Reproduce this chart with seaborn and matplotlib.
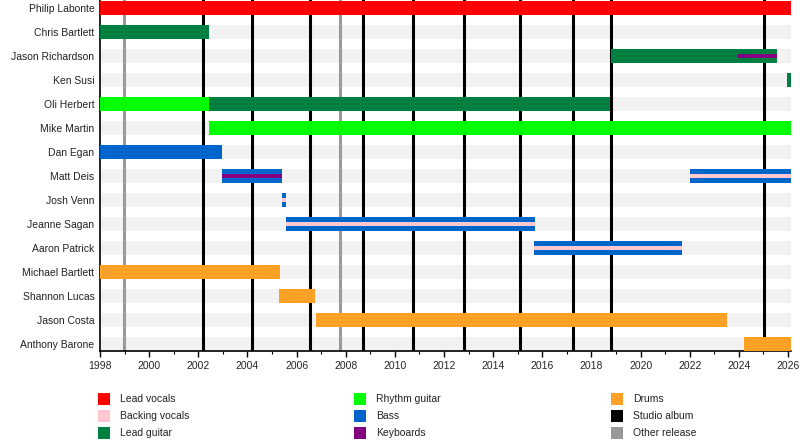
import matplotlib
matplotlib.use("Agg")
import matplotlib.pyplot as plt
from matplotlib.patches import Rectangle
from matplotlib.ticker import MultipleLocator
import seaborn as sns

# ── DATA ─────────────────────────────────────────────────────
members = ["Philip Labonte", "Chris Bartlett", "Jason Richardson", "Ken Susi",
           "Oli Herbert", "Mike Martin", "Dan Egan", "Matt Deis", "Josh Venn",
           "Jeanne Sagan", "Aaron Patrick", "Michael Bartlett", "Shannon Lucas",
           "Jason Costa", "Anthony Barone"]

END = 2026.12  # "today" on the timeline

# main role bars
bar_member = ["Philip Labonte", "Chris Bartlett", "Jason Richardson", "Ken Susi",
              "Oli Herbert", "Oli Herbert", "Mike Martin", "Dan Egan",
              "Matt Deis", "Matt Deis", "Josh Venn", "Jeanne Sagan",
              "Aaron Patrick", "Michael Bartlett", "Shannon Lucas",
              "Jason Costa", "Anthony Barone"]
bar_role = ["Lead vocals", "Lead guitar", "Lead guitar", "Lead guitar",
            "Rhythm guitar", "Lead guitar", "Rhythm guitar", "Bass",
            "Bass", "Bass", "Bass", "Bass",
            "Bass", "Drums", "Drums",
            "Drums", "Drums"]
bar_start = [1998.0, 1998.0, 2018.78, 2025.95,
             1998.0, 2002.44, 2002.42, 1998.0,
             2002.97, 2022.0, 2005.41, 2005.57,
             2015.68, 1998.0, 2005.30,
             2006.78, 2024.21]
bar_end = [END, 2002.44, 2025.54, END,
           2002.44, 2018.76, END, 2002.97,
           2005.41, END, 2005.57, 2015.70,
           2021.69, 2005.33, 2006.75,
           2023.52, END]

# secondary role stripes inside bars
stripe_member = ["Jason Richardson", "Matt Deis", "Matt Deis", "Josh Venn",
                 "Jeanne Sagan", "Aaron Patrick"]
stripe_role = ["Keyboards", "Keyboards", "Backing vocals", "Backing vocals",
               "Backing vocals", "Backing vocals"]
stripe_start = [2023.95, 2002.97, 2022.0, 2005.41, 2005.57, 2015.68]
stripe_end = [2025.54, 2005.41, END, 2005.57, 2015.70, 2021.69]

studio_albums = [2002.2, 2004.2, 2006.53, 2008.69, 2010.74, 2012.82,
                 2015.1, 2017.26, 2018.8, 2025.03]
other_releases = [1998.98, 2007.77]

role_colors = {
    "Lead vocals": "#FF0000",
    "Backing vocals": "#FFC8D0",
    "Lead guitar": "#008040",
    "Rhythm guitar": "#00FF00",
    "Bass": "#0066CC",
    "Keyboards": "#800080",
    "Drums": "#FFA126",
    "Studio album": "#000000",
    "Other release": "#999999",
}
legend_order = ["Lead vocals", "Backing vocals", "Lead guitar",
                "Rhythm guitar", "Bass", "Keyboards",
                "Drums", "Studio album", "Other release"]

# ── STYLE ────────────────────────────────────────────────────
sns.set_theme(style="white")
plt.rcParams["font.family"] = ["Liberation Sans", "DejaVu Sans"]
FS = 7.5

W, H = 800, 440
fig = plt.figure(figsize=(W / 100, H / 100), dpi=100)
ax = fig.add_axes([100 / W, 89 / H, 691 / W, 351 / H])

ypos = {m: i for i, m in enumerate(members)}
BAR_H = 14 / 24
STRIPE_H = 4 / 24

# background stripes
for m in members:
    ax.barh(ypos[m], END - 1998, left=1998, height=BAR_H,
            color="#F2F2F2", zorder=1, linewidth=0)

# release lines
ax.vlines(other_releases, -0.5, 14.5, color=role_colors["Other release"],
          linewidth=2.2, zorder=2)
ax.vlines(studio_albums, -0.5, 14.5, color=role_colors["Studio album"],
          linewidth=2.2, zorder=2)

# role bars
for m, r, s, e in zip(bar_member, bar_role, bar_start, bar_end):
    ax.barh(ypos[m], e - s, left=s, height=BAR_H,
            color=role_colors[r], zorder=3, linewidth=0)

for m, r, s, e in zip(stripe_member, stripe_role, stripe_start, stripe_end):
    ax.barh(ypos[m], e - s, left=s, height=STRIPE_H,
            color=role_colors[r], zorder=4, linewidth=0)

ax.set_xlim(1998, END)
ax.set_ylim(14 + 7 / 24, -8 / 24)
ax.set_yticks(range(len(members)))
ax.set_yticklabels(members, fontsize=FS, color="#222222")
ax.tick_params(axis="y", length=0, pad=4)
ax.xaxis.set_major_locator(MultipleLocator(2))
ax.xaxis.set_minor_locator(MultipleLocator(1))
ax.tick_params(axis="x", which="major", direction="out", length=4, width=1,
               color="black", labelsize=FS, pad=3.5, bottom=True)
ax.tick_params(axis="x", which="minor", direction="out", length=2.5, width=0.8,
               color="black", bottom=True)
ax.set_xticks(range(1998, 2027, 2))
sns.despine(ax=ax, top=True, right=True)
for side in ("left", "bottom"):
    ax.spines[side].set_color("black")
    ax.spines[side].set_linewidth(1.2)
ax.grid(False)

# ── LEGEND ───────────────────────────────────────────────────
col_x = [98, 354, 611]
row_y = [398.5, 415.5, 432.5]
for i, name in enumerate(legend_order):
    cx = col_x[i // 3]
    cy = row_y[i % 3]
    fig.add_artist(Rectangle((cx / W, (H - cy - 6) / H), 12 / W, 12 / H,
                             transform=fig.transFigure,
                             facecolor=role_colors[name], linewidth=0))
    fig.text((cx + 22) / W, (H - cy) / H, name, fontsize=FS,
             va="center", ha="left", color="#222222")

fig.savefig("out.png", dpi=100)
